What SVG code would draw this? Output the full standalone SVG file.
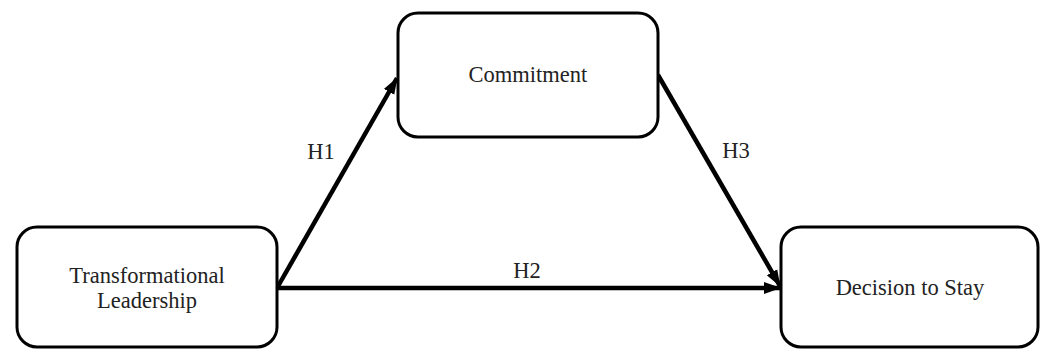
<svg xmlns="http://www.w3.org/2000/svg" width="1046" height="349" viewBox="0 0 1046 349">
<style>
.box{fill:#fff;stroke:#000;stroke-width:3}
.t{font-family:"Liberation Serif","DejaVu Serif",serif;font-size:22.5px;fill:#222;text-anchor:middle}
.c{stroke:#000;stroke-width:4.5;fill:none}
</style>
<defs>
<marker id="arr" markerUnits="userSpaceOnUse" markerWidth="18" markerHeight="14" refX="16" refY="7" orient="auto">
<path d="M0,1 L17,7 L0,13 Z" fill="#000"/>
</marker>
</defs>
<rect width="1046" height="349" fill="#fff"/>
<g id="connectors">
<line class="c" x1="277" y1="288" x2="397" y2="78" marker-end="url(#arr)"/>
<line class="c" x1="277" y1="288" x2="780" y2="288" marker-end="url(#arr)"/>
<line class="c" x1="658" y1="75" x2="780" y2="286" marker-end="url(#arr)"/>
<text class="t" x="321" y="159">H1</text>
<text class="t" x="527" y="278">H2</text>
<text class="t" x="736" y="158">H3</text>
</g>
<g id="leadership">
<rect class="box" x="17" y="227" width="260" height="120" rx="20"/>
<text class="t" x="147" y="283">Transformational</text>
<text class="t" x="147" y="308">Leadership</text>
</g>
<g id="commitment">
<rect class="box" x="398" y="13" width="260" height="124" rx="20"/>
<text class="t" x="528" y="82">Commitment</text>
</g>
<g id="decision">
<rect class="box" x="781" y="227" width="257" height="120" rx="20"/>
<text class="t" x="910" y="295">Decision to Stay</text>
</g>
</svg>
